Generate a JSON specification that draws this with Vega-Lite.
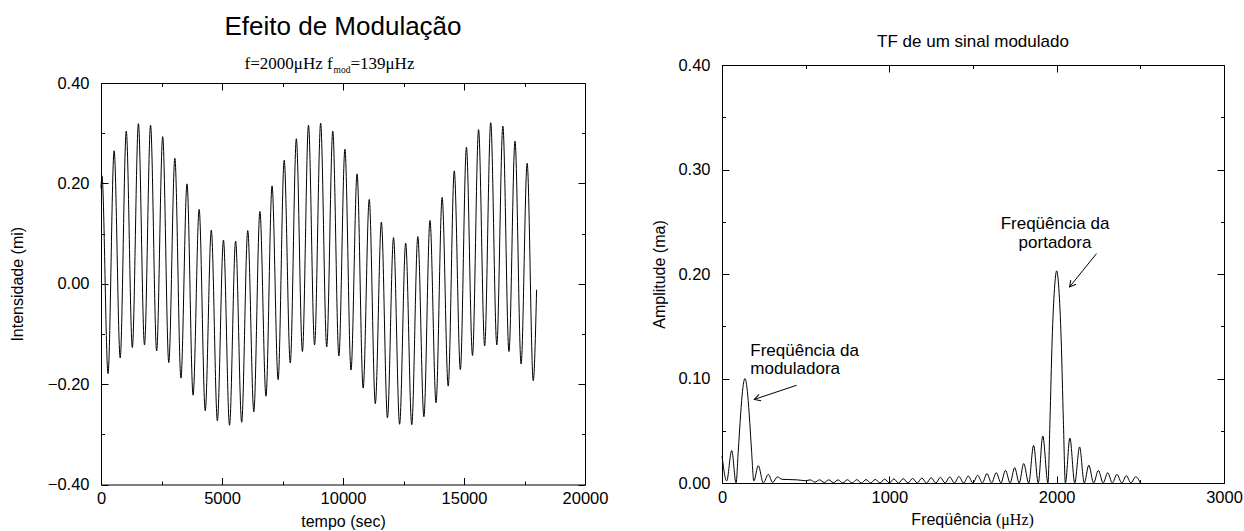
{
  "$schema": "https://vega.github.io/schema/vega-lite/v6.json",
  "background": "white",
  "padding": {"left": 9, "top": 14, "right": 5, "bottom": 0},
  "spacing": 43,
  "config": {
    "view": {"stroke": "black", "strokeWidth": 1},
    "axis": {"domain": false, "grid": false, "labelFont": "Liberation Sans", "labelFontSize": 16.5, "labelColor": "black", "titleFont": "Liberation Sans", "titleFontSize": 16, "titleFontWeight": "normal", "titleColor": "black", "tickColor": "black", "tickWidth": 1, "labelOverlap": false, "labelFlush": false},
    "text": {"font": "Liberation Sans", "color": "black"}
  },
  "datasets": {
    "signal": [
      {"t": 0, "v": 0.19}, {"t": 40, "v": 0.215}, {"t": 291, "v": -0.179}, {"t": 542, "v": 0.265}, {"t": 793, "v": -0.148},
      {"t": 1044, "v": 0.304}, {"t": 1295, "v": -0.127}, {"t": 1546, "v": 0.319}, {"t": 1797, "v": -0.122}, {"t": 2048, "v": 0.316},
      {"t": 2299, "v": -0.134}, {"t": 2550, "v": 0.293}, {"t": 2801, "v": -0.157}, {"t": 3052, "v": 0.25}, {"t": 3303, "v": -0.188},
      {"t": 3554, "v": 0.199}, {"t": 3805, "v": -0.222}, {"t": 4056, "v": 0.148}, {"t": 4307, "v": -0.253}, {"t": 4558, "v": 0.107},
      {"t": 4809, "v": -0.273}, {"t": 5060, "v": 0.087}, {"t": 5311, "v": -0.282}, {"t": 5562, "v": 0.085}, {"t": 5813, "v": -0.276},
      {"t": 6064, "v": 0.106}, {"t": 6315, "v": -0.255}, {"t": 6566, "v": 0.144}, {"t": 6817, "v": -0.224}, {"t": 7068, "v": 0.195},
      {"t": 7319, "v": -0.191}, {"t": 7570, "v": 0.246}, {"t": 7821, "v": -0.158}, {"t": 8072, "v": 0.289}, {"t": 8323, "v": -0.135},
      {"t": 8574, "v": 0.316}, {"t": 8825, "v": -0.122}, {"t": 9076, "v": 0.32}, {"t": 9327, "v": -0.126}, {"t": 9578, "v": 0.304},
      {"t": 9829, "v": -0.144}, {"t": 10080, "v": 0.268}, {"t": 10331, "v": -0.172}, {"t": 10582, "v": 0.219}, {"t": 10833, "v": -0.208},
      {"t": 11084, "v": 0.168}, {"t": 11335, "v": -0.239}, {"t": 11586, "v": 0.123}, {"t": 11837, "v": -0.267}, {"t": 12088, "v": 0.092},
      {"t": 12339, "v": -0.28}, {"t": 12590, "v": 0.081}, {"t": 12841, "v": -0.281}, {"t": 13092, "v": 0.094}, {"t": 13343, "v": -0.265},
      {"t": 13594, "v": 0.126}, {"t": 13845, "v": -0.237}, {"t": 14096, "v": 0.172}, {"t": 14347, "v": -0.204}, {"t": 14598, "v": 0.225},
      {"t": 14849, "v": -0.171}, {"t": 15100, "v": 0.272}, {"t": 15351, "v": -0.143}, {"t": 15602, "v": 0.307}, {"t": 15853, "v": -0.124},
      {"t": 16104, "v": 0.321}, {"t": 16355, "v": -0.122}, {"t": 16606, "v": 0.314}, {"t": 16857, "v": -0.135}, {"t": 17108, "v": 0.284},
      {"t": 17359, "v": -0.16}, {"t": 17610, "v": 0.24}, {"t": 17861, "v": -0.193}, {"t": 18000, "v": -0.012}
    ],
    "spectrum": [
      {"f": 0, "a": 0.026}, {"f": 28, "a": 0.002}, {"f": 58, "a": 0.031}, {"f": 84, "a": 0}, {"f": 97, "a": 0.03},
      {"f": 111, "a": 0.065}, {"f": 124, "a": 0.09}, {"f": 137, "a": 0.1}, {"f": 150, "a": 0.09}, {"f": 163, "a": 0.065},
      {"f": 177, "a": 0.03}, {"f": 190, "a": 0.002}, {"f": 217, "a": 0.0166}, {"f": 247, "a": 0}, {"f": 277, "a": 0.0083},
      {"f": 303, "a": 0.0005}, {"f": 331, "a": 0.0058}, {"f": 359, "a": 0.0035}, {"f": 400, "a": 0.0033}, {"f": 450, "a": 0.003},
      {"f": 500, "a": 0.0022}, {"f": 527, "a": 0.003}, {"f": 555, "a": 0.0008}, {"f": 583, "a": 0.003}, {"f": 611, "a": 0.0005},
      {"f": 638, "a": 0.003}, {"f": 666, "a": 0.0003}, {"f": 694, "a": 0.003}, {"f": 722, "a": 0}, {"f": 749, "a": 0.0031},
      {"f": 778, "a": 0}, {"f": 805, "a": 0.0032}, {"f": 833, "a": 0}, {"f": 861, "a": 0.0033}, {"f": 889, "a": 0},
      {"f": 916, "a": 0.0035}, {"f": 944, "a": 0}, {"f": 972, "a": 0.0037}, {"f": 1000, "a": 0}, {"f": 1027, "a": 0.0039},
      {"f": 1055, "a": 0}, {"f": 1083, "a": 0.0041}, {"f": 1111, "a": 0}, {"f": 1139, "a": 0.0044}, {"f": 1167, "a": 0},
      {"f": 1194, "a": 0.0047}, {"f": 1222, "a": 0}, {"f": 1250, "a": 0.005}, {"f": 1278, "a": 0}, {"f": 1305, "a": 0.0054},
      {"f": 1333, "a": 0}, {"f": 1361, "a": 0.0058}, {"f": 1389, "a": 0}, {"f": 1416, "a": 0.0062}, {"f": 1444, "a": 0},
      {"f": 1472, "a": 0.0066}, {"f": 1500, "a": 0}, {"f": 1528, "a": 0.0074}, {"f": 1556, "a": 0}, {"f": 1583, "a": 0.009},
      {"f": 1611, "a": 0}, {"f": 1639, "a": 0.0099}, {"f": 1667, "a": 0}, {"f": 1694, "a": 0.0121}, {"f": 1722, "a": 0},
      {"f": 1749, "a": 0.0147}, {"f": 1776, "a": 0}, {"f": 1803, "a": 0.0186}, {"f": 1833, "a": 0}, {"f": 1862, "a": 0.036},
      {"f": 1890, "a": 0}, {"f": 1917, "a": 0.045}, {"f": 1948, "a": 0}, {"f": 1960, "a": 0.06}, {"f": 1973, "a": 0.137},
      {"f": 1987, "a": 0.186}, {"f": 2000, "a": 0.203}, {"f": 2013, "a": 0.186}, {"f": 2027, "a": 0.137}, {"f": 2040, "a": 0.06},
      {"f": 2052, "a": 0}, {"f": 2079, "a": 0.043}, {"f": 2108, "a": 0}, {"f": 2137, "a": 0.0345}, {"f": 2165, "a": 0},
      {"f": 2192, "a": 0.017}, {"f": 2221, "a": 0}, {"f": 2249, "a": 0.012}, {"f": 2278, "a": 0}, {"f": 2305, "a": 0.0098},
      {"f": 2333, "a": 0}, {"f": 2360, "a": 0.0083}, {"f": 2389, "a": 0}, {"f": 2416, "a": 0.007}, {"f": 2444, "a": 0},
      {"f": 2472, "a": 0.006}, {"f": 2500, "a": 0}
    ]
  },
  "hconcat": [
    {
      "width": 484,
      "height": 419.5,
      "view": {"stroke": null},
      "resolve": {"axis": {"x": "independent", "y": "independent"}},
      "layer": [
        {
          "data": {"name": "signal"},
          "mark": {"type": "line", "interpolate": "monotone", "color": "black", "strokeWidth": 1},
          "encoding": {
            "x": {"field": "t", "type": "quantitative", "scale": {"domain": [0, 20000]},
              "axis": {"orient": "bottom", "title": "tempo (sec)", "values": [0, 2500, 5000, 7500, 10000, 12500, 15000, 17500, 20000],
                "labelExpr": "datum.value % 5000 === 0 ? format(datum.value, 'd') : ''",
                "tickSize": {"condition": {"test": "datum.value % 5000 === 0", "value": -7}, "value": -3.5},
                "domain": true, "domainColor": "black", "domainWidth": 1,
                "labelPadding": 13, "titlePadding": 3}},
            "y": {"field": "v", "type": "quantitative", "scale": {"domain": [-0.4, 0.4], "range": [419.5, 18]},
              "axis": {"orient": "left", "title": "Intensidade (mi)", "values": [-0.4, -0.3, -0.2, -0.1, 0, 0.1, 0.2, 0.3, 0.4],
                "labelExpr": "abs(datum.value * 5 - round(datum.value * 5)) < 0.000001 ? format(datum.value, '.2f') : ''",
                "tickSize": {"condition": {"test": "abs(datum.value * 5 - round(datum.value * 5)) < 0.000001", "value": -7}, "value": -3.5},
                "domain": true, "domainColor": "black", "domainWidth": 1,
                "labelPadding": 19, "titlePadding": 22}}
          }
        },
        {
          "data": {"values": [{"t": 10000, "v": 0.4951, "label": "Efeito de Modulação"}]},
          "mark": {"type": "text", "fontSize": 26, "align": "center", "baseline": "alphabetic", "font": "Liberation Sans"},
          "encoding": {
            "x": {"field": "t", "type": "quantitative", "scale": {"domain": [0, 20000]},
              "axis": {"orient": "top", "title": null, "labels": false, "offset": -18, "values": [0, 2500, 5000, 7500, 10000, 12500, 15000, 17500, 20000],
                "domain": true, "domainColor": "black", "domainWidth": 1,
                "tickSize": {"condition": {"test": "datum.value % 5000 === 0", "value": -7}, "value": -3.5}}},
            "y": {"field": "v", "type": "quantitative", "scale": {"domain": [-0.4, 0.4], "range": [419.5, 18]},
              "axis": {"orient": "right", "title": null, "labels": false, "values": [-0.4, -0.3, -0.2, -0.1, 0, 0.1, 0.2, 0.3, 0.4],
                "domain": true, "domainColor": "black", "domainWidth": 1,
                "tickSize": {"condition": {"test": "abs(datum.value * 5 - round(datum.value * 5)) < 0.000001", "value": -7}, "value": -3.5}}},
            "text": {"field": "label"}
          }
        },
        {
          "data": {"values": [{"t": 9574, "v": 0.4283, "label": "f=2000μHz  f"}]},
          "mark": {"type": "text", "fontSize": 17, "align": "right", "baseline": "alphabetic", "font": "Liberation Serif"},
          "encoding": {
            "x": {"field": "t", "type": "quantitative", "scale": {"domain": [0, 20000]}, "axis": null},
            "y": {"field": "v", "type": "quantitative", "scale": {"domain": [-0.4, 0.4], "range": [419.5, 18]}, "axis": null},
            "text": {"field": "label"}
          }
        },
        {
          "data": {"values": [{"t": 9607, "v": 0.4195, "label": "mod"}]},
          "mark": {"type": "text", "fontSize": 9.5, "align": "left", "baseline": "alphabetic", "font": "Liberation Serif"},
          "encoding": {
            "x": {"field": "t", "type": "quantitative", "scale": {"domain": [0, 20000]}, "axis": null},
            "y": {"field": "v", "type": "quantitative", "scale": {"domain": [-0.4, 0.4], "range": [419.5, 18]}, "axis": null},
            "text": {"field": "label"}
          }
        },
        {
          "data": {"values": [{"t": 10306, "v": 0.4283, "label": "=139μHz"}]},
          "mark": {"type": "text", "fontSize": 17, "align": "left", "baseline": "alphabetic", "font": "Liberation Serif"},
          "encoding": {
            "x": {"field": "t", "type": "quantitative", "scale": {"domain": [0, 20000]}, "axis": null},
            "y": {"field": "v", "type": "quantitative", "scale": {"domain": [-0.4, 0.4], "range": [419.5, 18]}, "axis": null},
            "text": {"field": "label"}
          }
        }
      ]
    },
    {
      "width": 502,
      "height": 418,
      "resolve": {"axis": {"x": "independent", "y": "independent"}},
      "layer": [
        {
          "data": {"name": "spectrum"},
          "mark": {"type": "line", "interpolate": "monotone", "color": "black", "strokeWidth": 1},
          "encoding": {
            "x": {"field": "f", "type": "quantitative", "scale": {"domain": [0, 3000]},
              "axis": {"orient": "bottom", "title": null, "values": [0, 500, 1000, 1500, 2000, 2500, 3000],
                "labelExpr": "datum.value % 1000 === 0 ? format(datum.value, 'd') : ''",
                "tickSize": {"condition": {"test": "datum.value % 1000 === 0", "value": -7}, "value": -3.5},
                "labelPadding": 13}},
            "y": {"field": "a", "type": "quantitative", "scale": {"domain": [0, 0.4]},
              "axis": {"orient": "left", "title": "Amplitude (ma)", "values": [0, 0.05, 0.1, 0.15, 0.2, 0.25, 0.3, 0.35, 0.4],
                "labelExpr": "abs(datum.value * 10 - round(datum.value * 10)) < 0.000001 ? format(datum.value, '.2f') : ''",
                "tickSize": {"condition": {"test": "abs(datum.value * 10 - round(datum.value * 10)) < 0.000001", "value": -7}, "value": -3.5},
                "labelPadding": 19, "titlePadding": 10}}
          }
        },
        {
          "data": {"values": [{"f": 1500, "a": 0.4172, "label": "TF de um sinal modulado"}]},
          "mark": {"type": "text", "fontSize": 17, "align": "center", "baseline": "alphabetic", "font": "Liberation Sans"},
          "encoding": {
            "x": {"field": "f", "type": "quantitative", "scale": {"domain": [0, 3000]},
              "axis": {"orient": "top", "title": null, "labels": false, "values": [0, 500, 1000, 1500, 2000, 2500, 3000],
                "tickSize": {"condition": {"test": "datum.value % 1000 === 0", "value": -7}, "value": -3.5}}},
            "y": {"field": "a", "type": "quantitative", "scale": {"domain": [0, 0.4]},
              "axis": {"orient": "right", "title": null, "labels": false, "values": [0, 0.05, 0.1, 0.15, 0.2, 0.25, 0.3, 0.35, 0.4],
                "tickSize": {"condition": {"test": "abs(datum.value * 10 - round(datum.value * 10)) < 0.000001", "value": -7}, "value": -3.5}}},
            "text": {"field": "label"}
          }
        },
        {
          "data": {"values": [{"f": 1990, "a": 0.2434, "label": "Freqüência da"}, {"f": 1990, "a": 0.2253, "label": "portadora"}]},
          "mark": {"type": "text", "fontSize": 17, "align": "center", "baseline": "alphabetic", "font": "Liberation Sans"},
          "encoding": {
            "x": {"field": "f", "type": "quantitative", "scale": {"domain": [0, 3000]}, "axis": null},
            "y": {"field": "a", "type": "quantitative", "scale": {"domain": [0, 0.4]}, "axis": null},
            "text": {"field": "label"}
          }
        },
        {
          "data": {"values": [{"f": 169, "a": 0.122, "label": "Freqüência da"}, {"f": 169, "a": 0.104, "label": "moduladora"}]},
          "mark": {"type": "text", "fontSize": 17, "align": "left", "baseline": "alphabetic", "font": "Liberation Sans"},
          "encoding": {
            "x": {"field": "f", "type": "quantitative", "scale": {"domain": [0, 3000]}, "axis": null},
            "y": {"field": "a", "type": "quantitative", "scale": {"domain": [0, 0.4]}, "axis": null},
            "text": {"field": "label"}
          }
        },
        {
          "data": {"values": [{"f": 446, "a": 0.0935, "f2": 193, "a2": 0.08}, {"f": 2238, "a": 0.2195, "f2": 2077, "a2": 0.1876}]},
          "mark": {"type": "rule", "color": "black", "strokeWidth": 1},
          "encoding": {
            "x": {"field": "f", "type": "quantitative", "scale": {"domain": [0, 3000]}, "axis": null},
            "y": {"field": "a", "type": "quantitative", "scale": {"domain": [0, 0.4]}, "axis": null},
            "x2": {"field": "f2"},
            "y2": {"field": "a2"}
          }
        },
        {
          "data": {"values": [{"f": 193, "a": 0.08}]},
          "mark": {"type": "point", "shape": "M -0.55 1 L 0 0 L 0.55 1", "filled": false, "color": "black", "strokeWidth": 1, "size": 150, "angle": 252, "opacity": 1},
          "encoding": {
            "x": {"field": "f", "type": "quantitative", "scale": {"domain": [0, 3000]}, "axis": null},
            "y": {"field": "a", "type": "quantitative", "scale": {"domain": [0, 0.4]}, "axis": null}
          }
        },
        {
          "data": {"values": [{"f": 2077, "a": 0.1876}]},
          "mark": {"type": "point", "shape": "M -0.55 1 L 0 0 L 0.55 1", "filled": false, "color": "black", "strokeWidth": 1, "size": 150, "angle": 219, "opacity": 1},
          "encoding": {
            "x": {"field": "f", "type": "quantitative", "scale": {"domain": [0, 3000]}, "axis": null},
            "y": {"field": "a", "type": "quantitative", "scale": {"domain": [0, 0.4]}, "axis": null}
          }
        },
        {
          "data": {"values": [{"f": 1610, "a": -0.0405, "label": "Freqüência"}]},
          "mark": {"type": "text", "fontSize": 16, "align": "right", "baseline": "alphabetic", "font": "Liberation Sans"},
          "encoding": {
            "x": {"field": "f", "type": "quantitative", "scale": {"domain": [0, 3000]}, "axis": null},
            "y": {"field": "a", "type": "quantitative", "scale": {"domain": [0, 0.4]}, "axis": null},
            "text": {"field": "label"}
          }
        },
        {
          "data": {"values": [{"f": 1637, "a": -0.0405, "label": "(μHz)"}]},
          "mark": {"type": "text", "fontSize": 16, "align": "left", "baseline": "alphabetic", "font": "Liberation Serif"},
          "encoding": {
            "x": {"field": "f", "type": "quantitative", "scale": {"domain": [0, 3000]}, "axis": null},
            "y": {"field": "a", "type": "quantitative", "scale": {"domain": [0, 0.4]}, "axis": null},
            "text": {"field": "label"}
          }
        }
      ]
    }
  ]
}
